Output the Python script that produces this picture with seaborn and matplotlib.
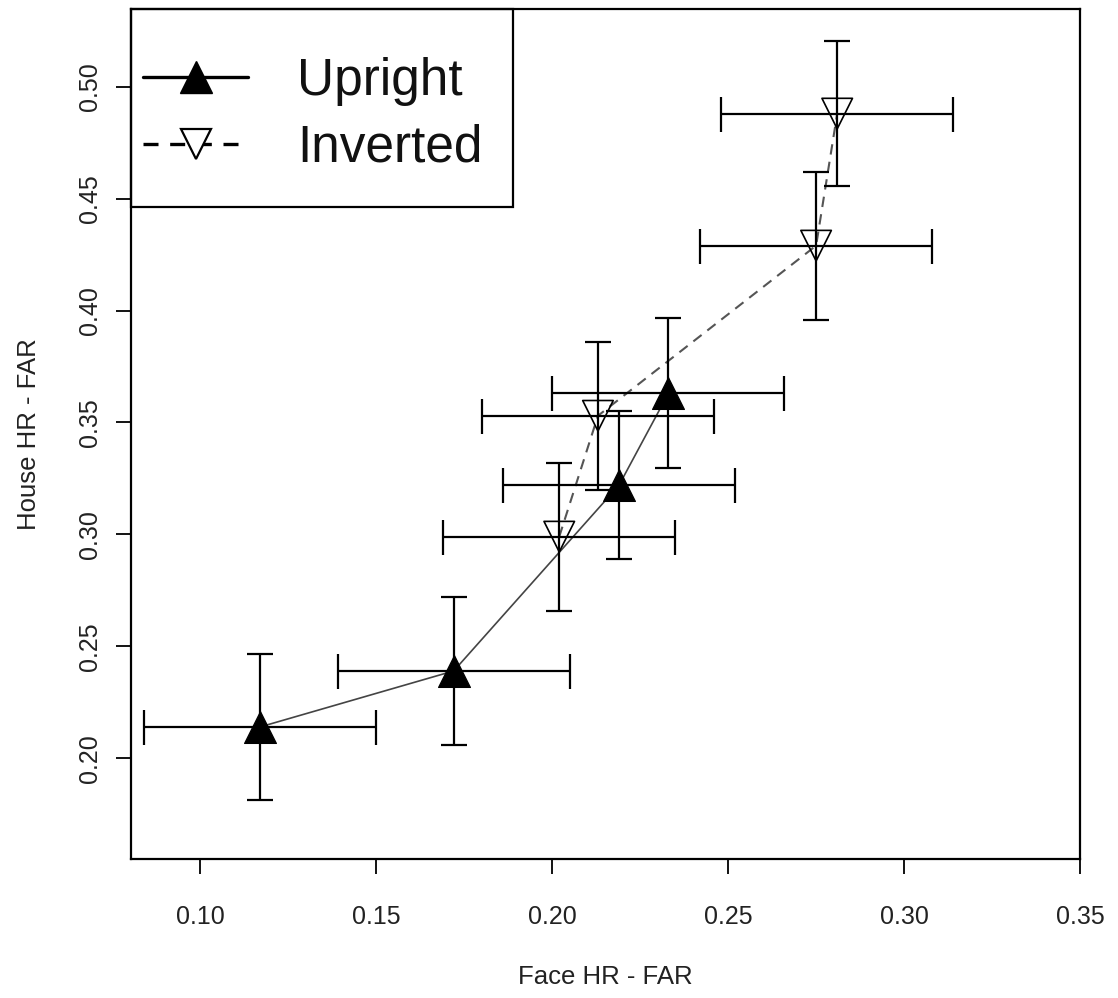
import numpy as np
import pandas as pd
import matplotlib
matplotlib.use("Agg")
import matplotlib.pyplot as plt
from matplotlib.lines import Line2D
from matplotlib.patches import Rectangle
import seaborn as sns

# ---------------- data ----------------
series_names = ["Upright", "Inverted"]

upright_x = [0.117, 0.172, 0.219, 0.233]
upright_y = [0.214, 0.239, 0.322, 0.363]
upright_xerr = [0.033, 0.033, 0.033, 0.033]
upright_yerr = [0.0327, 0.033, 0.033, 0.0335]

inverted_x = [0.202, 0.213, 0.275, 0.281]
inverted_y = [0.299, 0.353, 0.429, 0.488]
inverted_xerr = [0.033, 0.033, 0.033, 0.033]
inverted_yerr = [0.033, 0.033, 0.033, 0.0325]

x_ticks = [0.10, 0.15, 0.20, 0.25, 0.30, 0.35]
y_ticks = [0.20, 0.25, 0.30, 0.35, 0.40, 0.45, 0.50]
x_label = "Face HR - FAR"
y_label = "House HR - FAR"

# ---------------- style ----------------
sns.set_theme(style="white")
plt.rcParams["font.family"] = ["Liberation Sans", "DejaVu Sans"]

fig = plt.figure(figsize=(11.18, 9.98), dpi=100)
ax = fig.add_axes([0.1169, 0.1393, 0.966 - 0.1169, 0.9907 - 0.1393])

df = pd.concat([
    pd.DataFrame({"x": upright_x, "y": upright_y, "cond": series_names[0], "order": range(4)}),
    pd.DataFrame({"x": inverted_x, "y": inverted_y, "cond": series_names[1], "order": range(4)}),
], ignore_index=True)

# connecting lines
sns.lineplot(data=df[df.cond == "Upright"], x="x", y="y", sort=False, estimator=None,
             color="#444444", lw=1.2, ax=ax, legend=False, zorder=2)
sns.lineplot(data=df[df.cond == "Inverted"], x="x", y="y", sort=False, estimator=None,
             color="#555555", lw=1.5, ax=ax, legend=False, zorder=2,
             linestyle=(0, (5, 3.5)))

# error bars (horizontal and vertical with different cap sizes)
for xs, ys, xe, ye in [(upright_x, upright_y, upright_xerr, upright_yerr),
                       (inverted_x, inverted_y, inverted_xerr, inverted_yerr)]:
    ax.errorbar(xs, ys, xerr=xe, fmt="none", ecolor="black", elinewidth=1.6,
                capsize=12.6, capthick=1.6, zorder=3)
    ax.errorbar(xs, ys, yerr=ye, fmt="none", ecolor="black", elinewidth=1.6,
                capsize=9.4, capthick=1.6, zorder=3)

# markers
sns.scatterplot(x=upright_x, y=upright_y, marker="^", s=23 ** 2, color="black",
                edgecolor="black", linewidth=0.8, ax=ax, zorder=4)
sns.scatterplot(x=inverted_x, y=inverted_y, marker="v", s=22 ** 2, facecolor="none",
                edgecolor="black", linewidth=1.2, ax=ax, zorder=4)

# axes
ax.set_xlim(0.0802, 0.3491)
ax.set_ylim(0.1550, 0.5346)
ax.set_xticks(x_ticks)
ax.set_xticklabels([f"{v:.2f}" for v in x_ticks])
ax.set_yticks(y_ticks)
ax.set_yticklabels([f"{v:.2f}" for v in y_ticks], rotation=90, va="center")
ax.tick_params(axis="both", direction="out", length=11, width=1.3, color="black",
               labelsize=18, labelcolor="#222222")
ax.tick_params(axis="x", pad=22)
ax.tick_params(axis="y", pad=10)
ax.tick_params(bottom=True, left=True)
for s in ax.spines.values():
    s.set_visible(True)
    s.set_color("black")
    s.set_linewidth(1.6)
ax.set_xlabel(x_label, fontsize=18.5, color="#222222", labelpad=26)
ax.set_ylabel(y_label, fontsize=18.5, color="#222222", labelpad=26)
ax.grid(False)

# legend
handles = [
    Line2D([], [], color="black", lw=2.4, marker="^", markersize=23,
           markerfacecolor="black", markeredgecolor="black"),
    Line2D([], [], color="black", lw=2.4, linestyle=(0, (4.5, 3.5)), marker="v", markersize=22,
           markerfacecolor="white", markeredgecolor="black", markeredgewidth=1.6),
]
leg = ax.legend(handles, series_names, loc="upper left", bbox_to_anchor=(0.013, 0.944),
                borderaxespad=0, borderpad=0, frameon=False, fontsize=37,
                handlelength=2.05, handletextpad=0.95, labelspacing=0.35)
for t in leg.get_texts():
    t.set_color("#111111")
ax.add_patch(Rectangle((0, 0.7673), 0.4027, 1 - 0.7673, transform=ax.transAxes,
                       fill=False, edgecolor="black", lw=1.6, zorder=5, clip_on=False))

fig.savefig("out.png", dpi=100, facecolor="white")
